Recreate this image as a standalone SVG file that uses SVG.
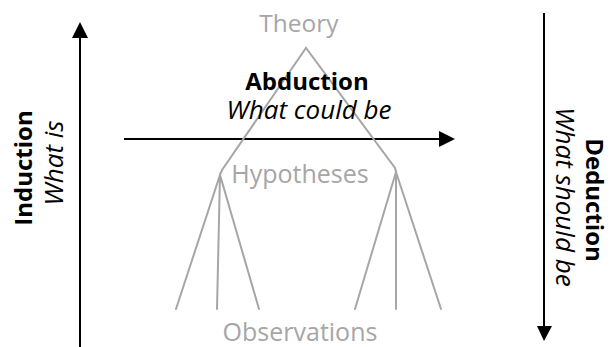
<svg xmlns="http://www.w3.org/2000/svg" width="610" height="347" viewBox="0 0 610 347">
<style>
.g{stroke:#a6a6a6;stroke-width:2;fill:none;stroke-linecap:round}
.a{stroke:#000;stroke-width:2;fill:none}
.lbl{font-family:"Open Sans","Noto Sans",sans-serif;font-size:24px}
.gray{fill:#a6a6a6;font-size:25px}
.b{font-weight:bold;fill:#000}
.i{font-style:italic;fill:#000;font-size:26px}
.arrowhead{fill:#000}
</style>
<rect width="610" height="347" fill="#fff"/>
<g id="connectors">
<line class="a" x1="80" y1="347" x2="80" y2="38"/>
<path class="arrowhead" d="M72,38 L80,22 L88,38 z"/>
<line class="a" x1="544" y1="13" x2="544" y2="326"/>
<path class="arrowhead" d="M537,326 L544,341 L552,326 z"/>
<line class="a" x1="124" y1="139" x2="439" y2="139"/>
<path class="arrowhead" d="M439,131 L455,139 L439,147 z"/>
<path class="g" d="M222,170 L306,48 L395,168 L396,172"/>
<path class="g" d="M222,170 L220,175"/>
<path class="g" d="M176,309 L220,175 L259,309 M220,175 L217,309"/>
<path class="g" d="M355,309 L396,172 L441,309 M396,172 L396,309"/>
</g>
<g id="theory"><text class="lbl gray" x="299" y="32" text-anchor="middle" style="font-size:24.5px">Theory</text></g>
<g id="abduction">
<text class="lbl b" x="307" y="90" text-anchor="middle">Abduction</text>
<text class="lbl i" x="309" y="119" text-anchor="middle">What could be</text>
</g>
<g id="hypotheses"><text class="lbl gray" x="300" y="183" text-anchor="middle">Hypotheses</text></g>
<g id="observations"><text class="lbl gray" x="300" y="341" text-anchor="middle">Observations</text></g>
<g id="induction">
<text class="lbl b" transform="translate(32,168) rotate(-90)" text-anchor="middle">Induction</text>
<text class="lbl i" transform="translate(63,163) rotate(-90)" text-anchor="middle">What is</text>
</g>
<g id="deduction">
<text class="lbl b" transform="translate(586,200) rotate(90)" text-anchor="middle">Deduction</text>
<text class="lbl i" transform="translate(556,197) rotate(90)" text-anchor="middle">What should be</text>
</g>
</svg>
